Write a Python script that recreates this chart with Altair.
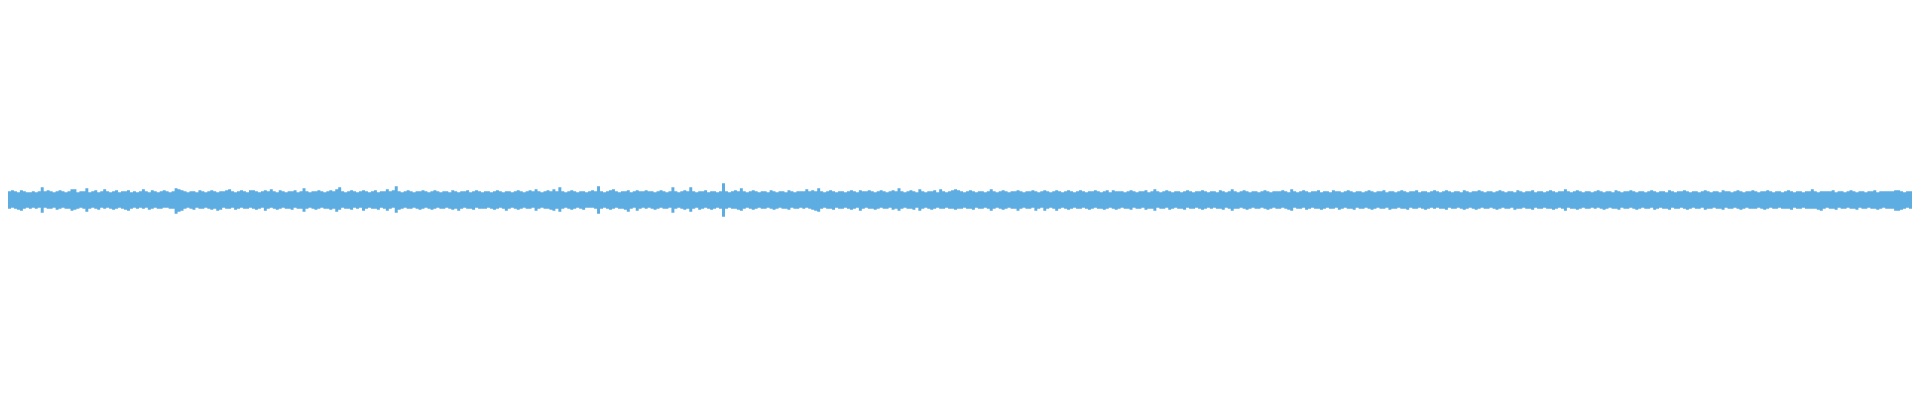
import altair as alt
import pandas as pd

# Waveform envelope, read per ~3 px column of the reference (amplitude above / below centre)
top_a = [9,10,9,8,10,9,8,8,9,8,9, 13, 9,10,9,8,9,10,9,8,9, 11,11, 8,9,9, 12, 8,9,10,8,9, 11,
         9,8,9,10,8,9,9,10,8,9,8,9, 11, 9,8,10,9,8,9,10]
bot_a = [9,8,9,10,11,9,8,9,8,9,8, 13, 8,9,9,8,10,9,8,9,9, 11,10, 9,8,9, 12, 9,8,9,10,8, 9,
         8,9,10,9,8,9,10,11,9,8,9,8, 9, 8,10,9,8,9,9,8]
top_b = [9,8,9, 12,11,10, 9,8,9,9,8,10,9,8,9,10,9,8,9,9,10, 11, 9,8,9,10,9,8, 10,10, 9,8,9, 10, 9, 11,
         9,8,10,9,8,9,9,10,8,9, 12, 9,8,9,9, 10, 9,8]
bot_b = [8,9,9, 14,12,11, 9,8,9,10,8,9,9,8,9,10,9, 11,10, 8,9,9,8,10,9,8,9,9,8,9,10,9,8, 11, 9,8,9, 10,
         9,8,9,9,10,8,9,9, 12, 9,8,9,10,9,8,9]
top_c = [9, 10, 9, 11, 13, 9,8,9,10,9,8,9, 10, 9,8,9,10,8,9,9, 11, 9,10, 14, 9,8,9,10,9,8,9,9, 10,
         9,8,9,10,9,8,9,9,8,10,9,8,9,9,10,8,9, 10, 9,8]
bot_c = [9, 10, 9, 12, 10, 8,9,9,10,8,9,8, 11, 9,8,9,9,10,8,9, 11, 9,8, 13, 10,9,8,9,9,8,9, 10,
         9,8,9,10,9,8,9,9,8,9,10,9, 11, 9,8,9,9,10,8,9,9]
top_d = [9,9, 8,9,10,9,8,9,9,8,9, 10, 9,8,9,10,9, 11, 9,8,9,10,9, 11, 9, 13,
         9,8,9,10,9,8,9,9,8,9,10,9, 14, 9,8,9,10, 11, 9,8,9,9,10,8,9, 10, 9,9]
bot_d = [9,8,9,10,9,8,9, 11, 9,8,9,10,9,8,9,9,8, 11, 9,8,9,9,10, 11, 9, 12, 9,8,9,10,9,8,9, 10,
         8,8,8,9, 14, 9,8,9,10,9,8,9,9,10, 12, 9,8, 11, 9,8]
top_e = [10,9, 9,8,9,10,9,8,9, 13, 9,8,9,10,9, 13, 9,8,9,9,10,8,9,9,8,9, 17, 9,8,9,10,9, 12,
         9,8,9,10,9,8,9,9,8,10,9,8,9,9,8, 10, 9,8,9,9]
bot_e = [9,8,9,10,9,8,9,9,8, 13, 9,8,9,10,9, 12, 9,8,10,9,8,9, 10, 9,8,9, 17, 9,8,9,9,10, 11,
         9,8,9,10,9,8,9,9,8,9,10,9,8,9,9,10,8,9,9,8]
top_f = [9, 11, 9,10,9, 12, 9,8,9,10,9,8,9,9,8,9,10,9,8, 10, 9,9, 10, 9,8,9,10,9,8,9,10,9, 12,
         9,8,9,10,9,8, 11, 9,8,9,9,10,8, 11, 9,8,9,10, 11, 10]
bot_f = [9,8,9,10, 11, 12, 9,8,9,9,10,8,9,9,8,9,10,9,8, 11, 9,8,9,9,10,9,8,9,9,8,10,9, 11,
         9,8,9,9,10,8, 11, 9,8,9,10,9,8,9,9,8,9,9, 10, 9]
top_g = [9,8,9,10,9,8,9,9,8,9, 11, 9,8,9,10,9,8,9,9, 10, 9,8,9,9, 10, 9,8,9, 10, 9,8,9, 10,
         9,8,9,10,9,8,9, 10, 9,8,9,9, 10, 9,8,9,10,8, 10, 9,9]
bot_g = [9,8,9,9,10,8,9,9,8,9, 11, 9,8,9,10,9,8,9,9, 11, 9,8,9,9,8, 11, 9,8, 11, 9,8,9, 11,
         9,8,9,10,9,8,9,9,8,9,10,9,8,9,9, 10, 9,8,9,10,9]
top_h = [9,8,9,10,9,8,9,9,10,8, 9,11,9,8,9,10,9,8,9,9, 8,9,10,9,8,9,9,10,9,8,
         9,9,8,10,9,8,9,11,9,8, 9,10,9,8,9,9,8,9,10,9, 8,9,9]
bot_h = [8,9,9,10,8,9,9,8,10,9, 9,11,8,9,9,8,10,9,8,9, 9,10,8,9,9,8,9,10,9,8,
         9,8,9,9,10,8,9,11,9,9, 8,9,10,9,8,9,9,8,9,10, 9,8,9]
top_i = [9,10,9,8,11,9,8,9,10,9, 8,9,9,10,8,9,9,8,10,9, 9,8,9,10,9,8,9,9,8,9,
         10,9,8,9,9,10,8,9,9,8, 9,10,9,8,9,9,10,8,9,9, 8,9,10]
bot_i = [9,8,9,10,11,8,9,9,8,10, 9,8,9,9,10,9,8,9,9,8, 10,9,8,9,9,10,8,9,9,8,
         9,10,9,8,9,9,8,10,9,9, 8,9,9,10,8,9,9,8,9,10, 9,8,9]
top_j = [9,8,9,10,9,8,9,9,8,10, 9,8,9,9,10,9,8,9,9,8, 9,10,9,8,9,9,8,10,9,8,
         9,9,10,8,9,9,8,9,10,9, 8,9,9,11,9,8,9,10,9,8, 9,9,8]
bot_j = [8,9,9,10,8,9,9,8,9,10, 9,8,9,10,9,8,9,9,8,9, 10,9,8,9,9,8,10,9,9,8,
         9,9,10,8,9,9,8,9,9,10, 9,8,9,11,8,9,9,10,9,8, 9,9,8]
top_k = [9,10,9,8,9,9,8,10,9,8, 9,9,10,9,8,9,9,8,9,10, 9,8,9,9,8,10,9,8,9,9,
         10,9,8,9,9,8,9,10,9,8, 9,9,8,10,9,9,8,9,10,9, 8,9,9,10]
bot_k = [9,8,9,10,9,8,9,9,10,8, 9,9,8,9,10,9,8,9,9,8, 10,9,8,9,9,10,8,9,9,8,
         9,10,9,8,9,9,8,10,9,9, 8,9,9,10,8,9,9,8,9,10, 9,8,9,9]
top_l = [9,8,9,9,10,9,8,9,9,8, 9,10,9,8,9,9,8,9,9,11, 9,8,9,9,9,9,10,8,9,9,
         8,9,10,9,8,9,9,8,9,9, 10,8,9,9,9,9,9,10,10,9, 8,9,9]
bot_l = [9,8,9,10,9,8,9,9,8,9, 9,9,10,8,9,9,8,9,9,9, 9,10,11,9,8,9,9,10,8,9,
         9,8,9,9,10,8,9,9,8,9, 9,10,9,8,9,9,9,11,11,10, 9,8,9]

tops = (top_a + top_b + top_c + top_d + top_e + top_f + top_g +
        top_h + top_i + top_j + top_k + top_l)
bots = (bot_a + bot_b + bot_c + bot_d + bot_e + bot_f + bot_g +
        bot_h + bot_i + bot_j + bot_k + bot_l)

n = min(len(tops), len(bots))
span = 1920.0
step = span / n
t = [i * step for i in range(n)] + [span]
hi = tops[:n] + [tops[n - 1]]
lo = [-b for b in bots[:n]] + [-bots[n - 1]]
df = pd.DataFrame({"t": t, "hi": hi, "lo": lo})

chart = (
    alt.Chart(df)
    .mark_area(color="#5DADE2", interpolate="step-after", opacity=1)
    .encode(
        x=alt.X("t:Q", axis=None, scale=alt.Scale(domain=[0, span], nice=False, zero=False)),
        y=alt.Y("hi:Q", axis=None, scale=alt.Scale(domain=[-196, 196], nice=False)),
        y2="lo:Q",
    )
    .properties(width=1904, height=384, padding=0, autosize=alt.AutoSizeParams(type="none"))
    .configure_view(stroke=None)
)

chart.save("out.html", embed_options={"renderer": "svg", "actions": False})
